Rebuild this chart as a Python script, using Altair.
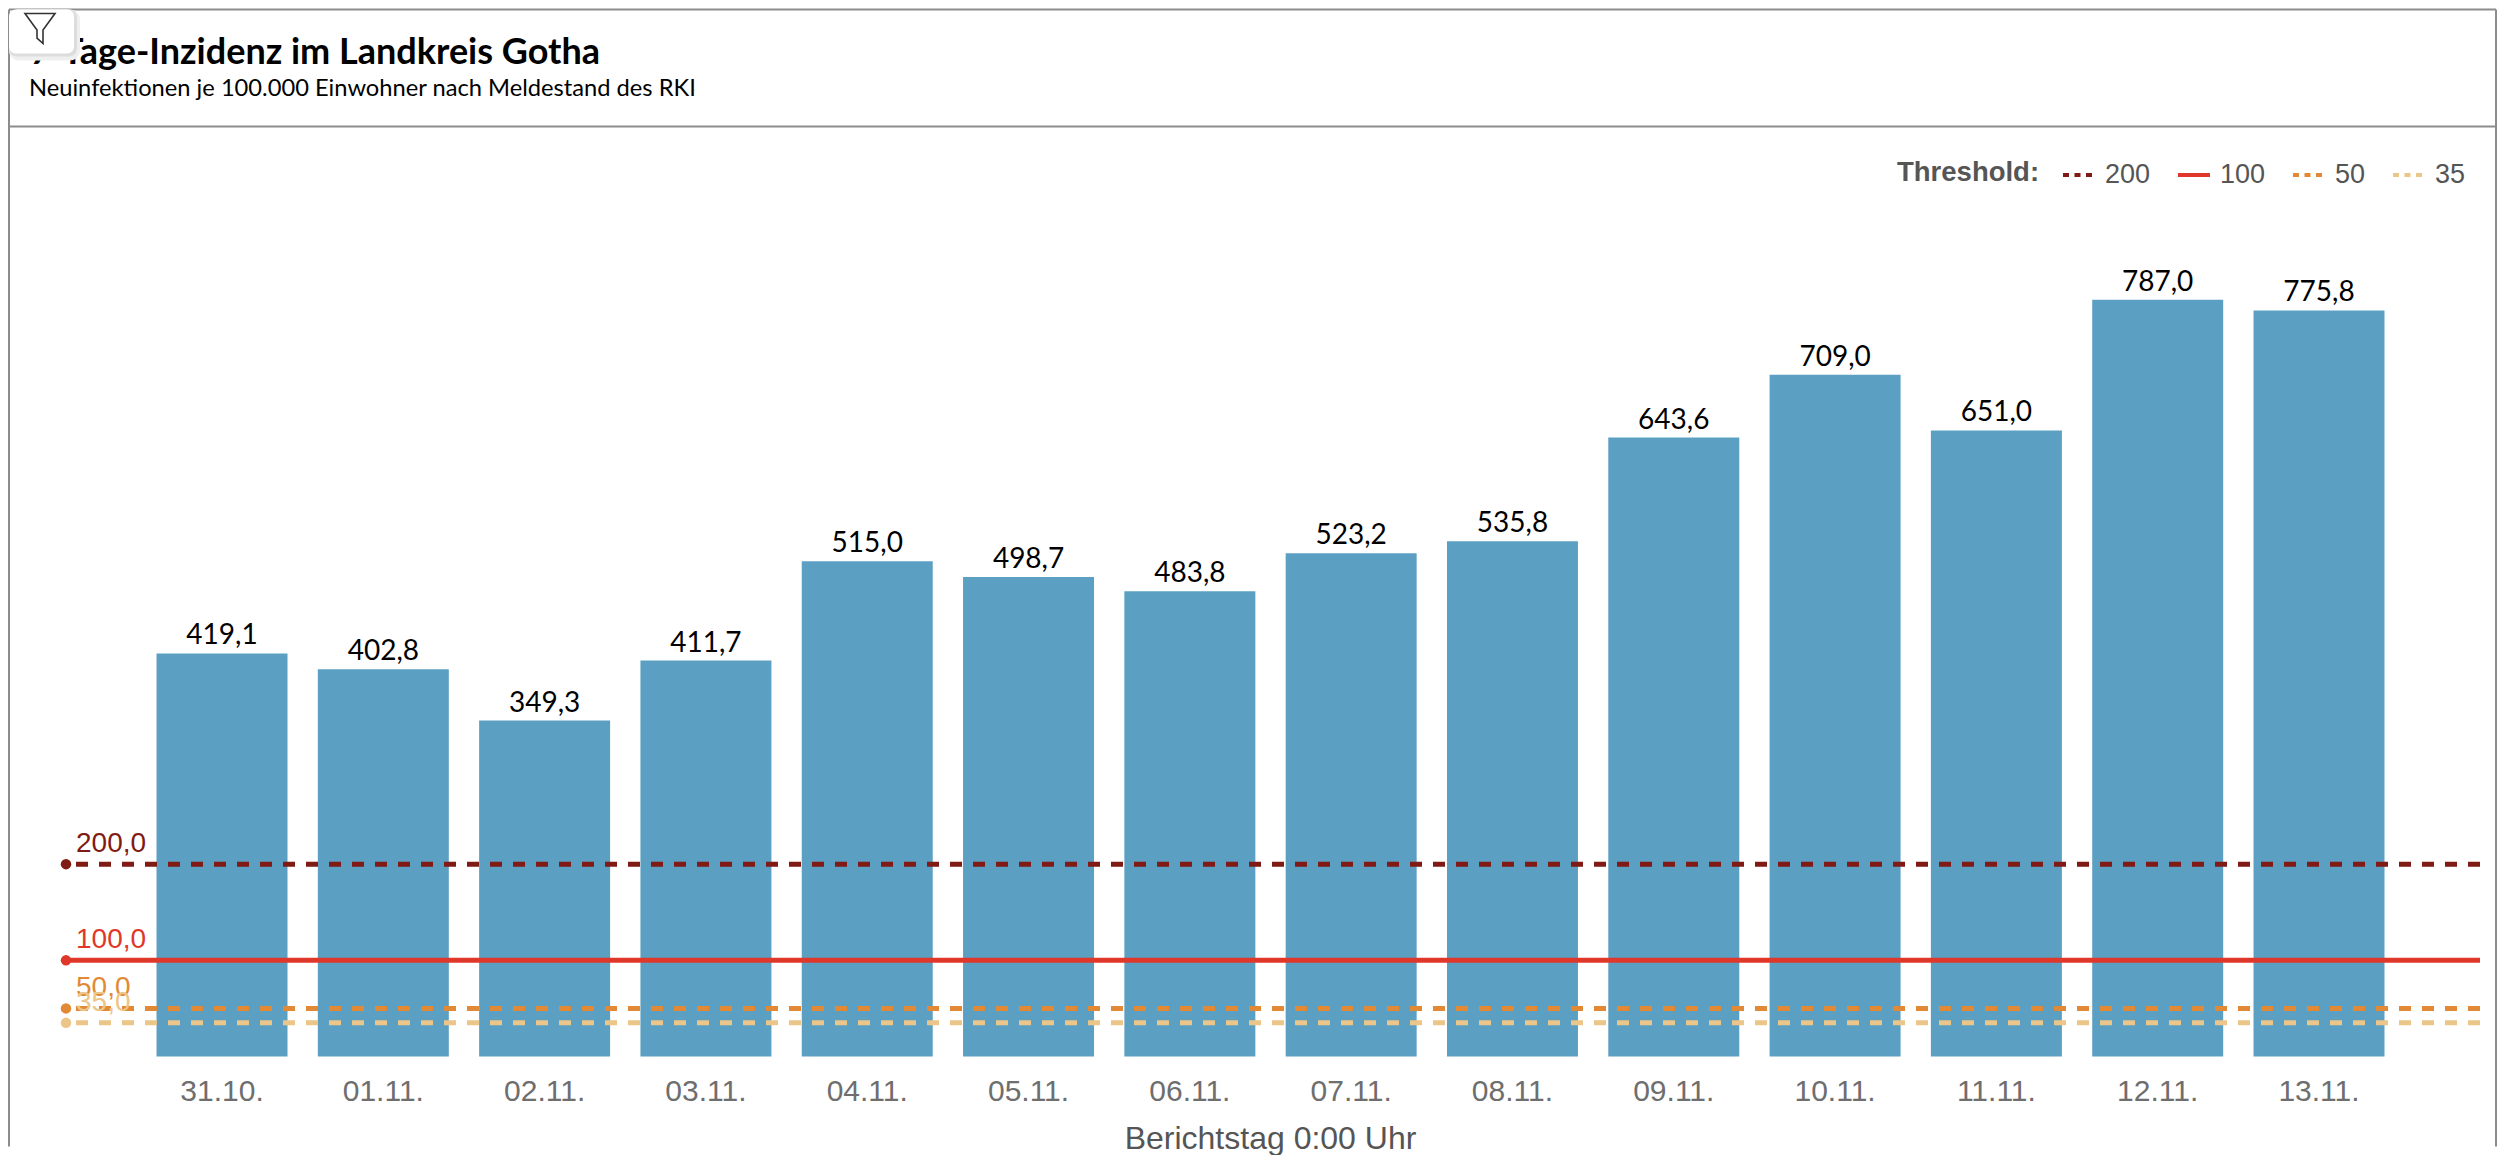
import altair as alt
import pandas as pd

dates = ["31.10.", "01.11.", "02.11.", "03.11.", "04.11.", "05.11.", "06.11.",
         "07.11.", "08.11.", "09.11.", "10.11.", "11.11.", "12.11.", "13.11."]
incidence = [419.1, 402.8, 349.3, 411.7, 515.0, 498.7, 483.8,
             523.2, 535.8, 643.6, 709.0, 651.0, 787.0, 775.8]
threshold_names = ["200", "100", "50", "35"]
threshold_values = [200, 100, 50, 35]
threshold_colors = ["#7f1a14", "#e0372b", "#e28936", "#ecc588"]
legend_dashes = [[6, 5.5], [1, 0], [6, 5.5], [6, 5.5]]

BAR = "#5b9fc3"
FRAME = "#8c8c8c"
SANS = "Liberation Sans"
PLOT_L, PLOT_T = 66, 190.5
W, H = 2414, 865.5
FRAME_R, FRAME_B = 2496, 1146
ax = lambda x: x - PLOT_L
ay = lambda y: y - PLOT_T

bars_df = pd.DataFrame({"date": dates, "value": incidence})
th_df = pd.DataFrame({"name": threshold_names, "value": threshold_values})

x = alt.X("date:N", sort=dates, title="Berichtstag 0:00 Uhr",
          scale=alt.Scale(paddingInner=0.188, paddingOuter=0.5766, align=0.4866),
          axis=alt.Axis(labelAngle=0, domain=False, ticks=False, labelFont=SANS,
                        labelFontSize=30, labelColor="#6e6e6e", labelPadding=20,
                        titleFont=SANS, titleFontSize=32, titleFontWeight="normal",
                        titleColor="#555555", titlePadding=17, titleX=W / 2 - 3))
y = alt.Y("value:Q", scale=alt.Scale(domain=[0, 900], nice=False), axis=None)
fmt = "replace(format(datum.value,'.1f'),'.',',')"

color_scale = alt.Scale(domain=threshold_names, range=threshold_colors)
color_nolegend = alt.Color("name:N", scale=color_scale, legend=None)

bars = alt.Chart(bars_df).mark_bar(color=BAR).encode(x=x, y=y)
bar_labels = alt.Chart(bars_df).transform_calculate(label=fmt).mark_text(
    font="Lato", fontSize=28, color="black", baseline="alphabetic", dy=-9
).encode(x=alt.X("date:N", sort=dates), y=y, text="label:N")

th = alt.Chart(th_df)
legend_layer = th.transform_filter("false").mark_rule(strokeWidth=4).encode(
    y=y,
    color=alt.Color("name:N", scale=color_scale, title="Threshold:", legend=alt.Legend(
        orient="none", legendX=ax(1897), legendY=ay(156.5), direction="horizontal",
        titleOrient="left", titleFont=SANS, titleFontSize=27.5, titleFontWeight="bold",
        titleColor="#555555", titlePadding=21, labelFont=SANS, labelFontSize=27,
        labelColor="#555555", symbolType="stroke", symbolSize=1024, symbolStrokeWidth=4,
        labelOffset=8, columnPadding=19)),
    strokeDash=alt.StrokeDash("name:N", title="Threshold:",
                              scale=alt.Scale(domain=threshold_names, range=legend_dashes)))
dashed = th.transform_filter("datum.name != '100'").mark_rule(
    strokeWidth=5, strokeDash=[12, 11]).encode(y=y, color=color_nolegend)
solid = th.transform_filter("datum.name == '100'").mark_rule(
    strokeWidth=5).encode(y=y, color=color_nolegend)
th_points = th.mark_point(filled=True, size=110, opacity=1).encode(
    x=alt.value(0), y=y, color=color_nolegend)
th_text = th.transform_calculate(label=fmt).mark_text(
    font=SANS, fontSize=28, align="left", baseline="alphabetic", dy=-12
).encode(x=alt.value(10), y=y, text="label:N", color=color_nolegend)

# frame around the card
def hline(x1, x2, yy):
    return alt.Chart(bars_df.head(1)).mark_rule(color=FRAME, strokeWidth=2).encode(
        x=alt.value(ax(x1)), x2=alt.value(ax(x2)), y=alt.value(ay(yy)))
def vline(xx, y1, y2):
    return alt.Chart(bars_df.head(1)).mark_rule(color=FRAME, strokeWidth=2).encode(
        x=alt.value(ax(xx)), y=alt.value(ay(y1)), y2=alt.value(ay(y2)))

frame = [hline(9, FRAME_R, 9), hline(9, FRAME_R, 126),
         vline(9, 9, FRAME_B), vline(FRAME_R, 9, FRAME_B)]

title = alt.Chart(bars_df.head(1)).mark_text(
    text="7-Tage-Inzidenz im Landkreis Gotha", font="Lato", fontSize=36, fontWeight="bold",
    align="left", baseline="alphabetic", color="black"
).encode(x=alt.value(ax(30)), y=alt.value(ay(63)))
subtitle = alt.Chart(bars_df.head(1)).mark_text(
    text="Neuinfektionen je 100.000 Einwohner nach Meldestand des RKI", font="Lato", fontSize=23.7,
    align="left", baseline="alphabetic", color="black"
).encode(x=alt.value(ax(29)), y=alt.value(ay(95)))

# filter button overlapping the title
one = bars_df.head(1)
shadow2 = alt.Chart(one).mark_rect(color="#efefef", cornerRadius=10).encode(
    x=alt.value(ax(9)), x2=alt.value(ax(80)), y=alt.value(ay(9)), y2=alt.value(ay(60)))
shadow = alt.Chart(one).mark_rect(color="#dddddd", cornerRadius=8).encode(
    x=alt.value(ax(9)), x2=alt.value(ax(77)), y=alt.value(ay(9)), y2=alt.value(ay(56)))
card = alt.Chart(one).mark_rect(color="white", cornerRadius=7).encode(
    x=alt.value(ax(9)), x2=alt.value(ax(74)), y=alt.value(ay(9)), y2=alt.value(ay(53)))
FUNNEL = "M-0.5,-0.5 L0.5,-0.5 L0.1,0.05 L0.1,0.5 L-0.1,0.32 L-0.1,0.05 Z"
funnel = alt.Chart(one).mark_point(
    shape=FUNNEL, size=3600, filled=False, color="#333333", strokeWidth=1.6, opacity=1
).encode(x=alt.value(ax(40)), y=alt.value(ay(28)))

chart = alt.layer(
    bars, bar_labels, legend_layer, dashed, solid, th_points, th_text,
    *frame, title, subtitle, shadow2, shadow, card, funnel
).properties(
    width=W, height=H, padding=0,
    autosize=alt.AutoSizeParams(type="pad", contains="padding")
).configure_view(stroke=None)

chart.save("out.html", embed_options={"renderer": "svg", "actions": False})
